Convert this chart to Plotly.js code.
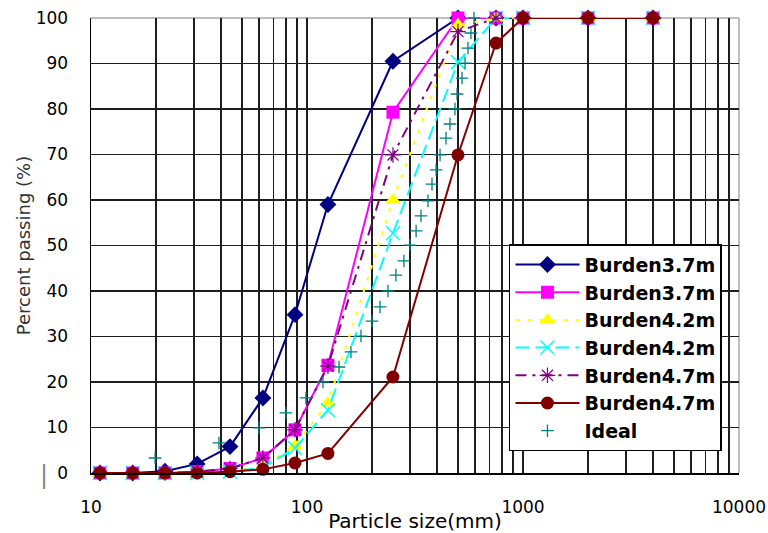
<!DOCTYPE html>
<html>
<head>
<meta charset="utf-8">
<script src="https://cdn.plot.ly/plotly-3.0.1.min.js"></script>
<style>html,body{margin:0;padding:0;background:#fff;}#chart{width:768px;height:533px;}</style>
</head>
<body>
<div id="chart"></div>
<script>
// Sieve sizes (mm)
const sizes = [11, 15.6, 22, 31, 44, 62.5, 88, 125, 250, 500, 750, 1000, 2000, 4000];
// Percent passing per blast
const burden37a = [0, 0, 0.4, 2, 5.8, 16.5, 34.8, 59, 90.5, 100, 100, 100, 100, 100];
const burden37b = [0, 0, 0, 0.3, 1, 3.3, 9.5, 23.7, 79.3, 100, 100, 100, 100, 100];
const burden42a = [0, 0, 0, 0, 0.3, 1.5, 6, 15.4, 60, 98.5, 100, 100, 100, 100];
const burden42b = [0, 0, 0, 0, 0.3, 1.2, 5.5, 13.8, 52.7, 90.3, 100, 100, 100, 100];
const burden47a = [0, 0, 0, 0.3, 1, 3.3, 9.5, 23.5, 69.9, 97, 100, 100, 100, 100];
const burden47b = [0, 0, 0, 0, 0.3, 0.8, 2.2, 4.3, 21.1, 69.9, 94.5, 100, 100, 100];
// Ideal curve
const idealSize = [19.8, 39.1, 59.9, 79.9, 98.9, 118.6, 140.7, 159.8, 177.8, 200, 217.8, 237, 258, 281, 300, 320, 337, 363, 379, 396, 413, 440, 459, 484, 495, 522, 539, 556, 574, 593];
const idealPass = [3.3, 6.6, 9.9, 13.2, 16.5, 20, 23.3, 26.6, 30.1, 33.4, 36.5, 40, 43.5, 46.6, 50.1, 53.2, 56.5, 59.8, 63.5, 66.6, 69.9, 73.6, 76.7, 80, 83.3, 86.8, 90.1, 93.4, 96.7, 100];

const seriesNames = ['Burden3.7m', 'Burden3.7m', 'Burden4.2m', 'Burden4.2m', 'Burden4.7m', 'Burden4.7m', 'Ideal'];
const xTickVals = [10, 100, 1000, 10000];
const xTickText = ['10', '100', '1000', '10000'];
const yTickVals = [0, 10, 20, 30, 40, 50, 60, 70, 80, 90, 100];
// inner grid positions (edges are drawn as frame)
const xGridVals = [];
[10, 100, 1000].forEach(d => { for (let k = 1; k <= 9; k++) { if (d * k !== 10) xGridVals.push(d * k); } });
const yGridVals = [10, 20, 30, 40, 50, 60, 70, 80, 90];

function tr(y, name, color, dash, symbol, size, mline) {
  return {
    x: sizes, y: y, name: name, type: 'scatter', mode: 'lines+markers',
    cliponaxis: false, legendgroup: name + color,
    line: {color: color, width: 2, dash: dash},
    marker: {symbol: symbol, size: size, color: color, line: {color: color, width: mline || 0}}
  };
}

const data = [
  tr(burden37a, seriesNames[0], '#000080', 'solid', 'diamond', 13),
  tr(burden37b, seriesNames[1], '#FF00FF', 'solid', 'square', 13),
  tr(burden42a, seriesNames[2], '#FFFF00', '4px,8px', 'triangle-up', 14),
  tr(burden42b, seriesNames[3], '#00FFFF', '14px,6px', 'x-thin-open', 14, 1.5),
  tr(burden47a, seriesNames[4], '#800080', '11px,6px,3px,6px', 'asterisk-open', 13, 1.2),
  tr(burden47b, seriesNames[5], '#800000', 'solid', 'circle', 13),
  {
    x: idealSize, y: idealPass, name: seriesNames[6], type: 'scatter', mode: 'markers',
    cliponaxis: false, legendgroup: 'ideal',
    marker: {symbol: 'cross-thin-open', size: 9, color: '#008080', line: {color: '#008080', width: 1.3}}
  }
];

const layout = {
  width: 768, height: 533,
  margin: {l: 91, r: 29, t: 18, b: 60},
  paper_bgcolor: '#fff', plot_bgcolor: '#fff',
  showlegend: true,
  legend: {
    x: 0.645, y: 0.503, xanchor: 'left', yanchor: 'top',
    bgcolor: '#fff', bordercolor: '#000', borderwidth: 1.5,
    font: {family: 'DejaVu Sans', size: 19, color: '#000', weight: 'bold'},
    itemwidth: 64, tracegroupgap: 9, traceorder: 'normal'
  },
  xaxis: {
    type: 'log', range: [1, 4],
    tickmode: 'array', tickvals: xTickVals, ticktext: xTickText,
    showgrid: false,
    minor: {tickmode: 'array', tickvals: xGridVals, showgrid: true, gridcolor: '#1e1e1e', gridwidth: 1.5, ticks: ''},
    showline: true, linecolor: '#000', linewidth: 1.5,
    ticks: '', ticklabelstandoff: 18,
    tickfont: {family: 'DejaVu Sans', size: 17, color: '#000'},
    zeroline: false,
    title: {text: 'Particle size(mm)', font: {family: 'DejaVu Sans', size: 20, color: '#000'}, standoff: 0}
  },
  yaxis: {
    range: [0, 100],
    tickmode: 'array', tickvals: yTickVals,
    showgrid: false,
    minor: {tickmode: 'array', tickvals: yGridVals, showgrid: true, gridcolor: '#1e1e1e', gridwidth: 1.5, ticks: ''},
    showline: true, linecolor: '#000', linewidth: 1.5,
    ticks: '', ticklabelstandoff: 18,
    tickfont: {family: 'DejaVu Sans', size: 17, color: '#000'},
    zeroline: false,
    title: {text: 'Percent passing (%)', font: {family: 'DejaVu Sans', size: 18, color: '#333'}, standoff: 0}
  },
  shapes: [
    {type: 'line', xref: 'paper', yref: 'paper', x0: 0, x1: 1, y0: 1, y1: 1, line: {color: '#a8a8a8', width: 1.5}, layer: 'below'},
    {type: 'line', xref: 'paper', yref: 'paper', x0: 1, x1: 1, y0: 0, y1: 1, line: {color: '#a8a8a8', width: 1.5}, layer: 'below'}
  ],
  annotations: [
    {text: '|', xref: 'paper', yref: 'y', x: -0.082, y: 0, yshift: -2, showarrow: false, font: {family: 'DejaVu Sans', size: 24, color: '#888'}}
  ]
};

Plotly.newPlot('chart', data, layout, {displayModeBar: false, staticPlot: true});
</script>
</body>
</html>
